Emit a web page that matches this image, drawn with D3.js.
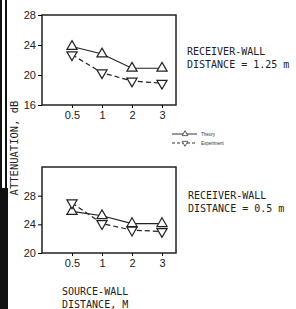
<!DOCTYPE html>
<html>
<head>
<meta charset="utf-8">
<script src="https://cdn.jsdelivr.net/npm/d3@7"></script>
<style>
  body { margin: 0; background: #fff; }
  svg { display: block; }
  .tick text { font-family: "Liberation Sans Narrow", "Liberation Sans", sans-serif; font-size: 11px; fill: #222; }
  .mono { font-family: "DejaVu Sans Mono", "Liberation Mono", monospace; font-size: 10px; fill: #222; }
</style>
</head>
<body>
<script>
// source-wall distance, m
var distances = ["0.5", "1", "2", "3"];

// receiver-wall distance = 1.25 m
var theoryFar = [23.8, 22.8, 20.9, 20.9];
var expFar = [22.7, 20.3, 19.2, 18.9];

// receiver-wall distance = 0.5 m
var theoryNear = [25.8, 25.2, 24.1, 24.1];
var expNear = [27.0, 24.1, 23.2, 23.0];

var ticksFar = [16, 20, 24, 28];
var ticksNear = [20, 24, 28];

var svg = d3.select('body').append('svg')
  .attr('width', 296).attr('height', 309);

// scan edge on the left
svg.append('rect').attr('x', 0).attr('y', 0).attr('width', 2).attr('height', 309).attr('fill', '#111');
svg.append('rect').attr('x', 5).attr('y', 0).attr('width', 2).attr('height', 190).attr('fill', '#111');
svg.append('rect').attr('x', 0).attr('y', 188).attr('width', 8).attr('height', 121).attr('fill', '#111');

var x = d3.scalePoint().domain(distances).range([72, 162]);

function panel(top, bottom, domain, ticks, theory, exp) {
  var y = d3.scaleLinear().domain(domain).range([bottom, top]);
  var g = svg.append('g');

  // box
  g.append('rect')
    .attr('x', 42).attr('y', top)
    .attr('width', 134).attr('height', bottom - top)
    .attr('fill', 'none').attr('stroke', '#222').attr('stroke-width', 1.5);

  var ya = g.append('g').attr('transform', 'translate(42,0)')
    .call(d3.axisLeft(y).tickValues(ticks).tickSize(4).tickPadding(2));
  ya.select('.domain').remove();

  var xa = g.append('g').attr('transform', 'translate(0,' + bottom + ')')
    .call(d3.axisBottom(x).tickSize(3).tickPadding(3));
  xa.select('.domain').remove();

  var line = d3.line()
    .x(function (d, i) { return x(distances[i]); })
    .y(function (d) { return y(d); });

  g.append('path').datum(theory).attr('d', line)
    .attr('fill', 'none').attr('stroke', '#222').attr('stroke-width', 1.2);
  g.append('path').datum(exp).attr('d', line)
    .attr('fill', 'none').attr('stroke', '#222').attr('stroke-width', 1.2)
    .attr('stroke-dasharray', '5,3');

  var up = d3.symbol().type(d3.symbolTriangle).size(45);
  g.selectAll('.th').data(theory).enter().append('path')
    .attr('d', up)
    .attr('transform', function (d, i) { return 'translate(' + x(distances[i]) + ',' + y(d) + ')'; })
    .attr('fill', 'white').attr('stroke', '#222').attr('stroke-width', 1.2);
  g.selectAll('.ex').data(exp).enter().append('path')
    .attr('d', up)
    .attr('transform', function (d, i) { return 'translate(' + x(distances[i]) + ',' + y(d) + ') rotate(180)'; })
    .attr('fill', 'white').attr('stroke', '#222').attr('stroke-width', 1.2);
}

panel(15, 105, [16, 28], ticksFar, theoryFar, expFar);
panel(167, 253, [20, 32], ticksNear, theoryNear, expNear);

// legend
var leg = svg.append('g');
[['Theory', 0, null], ['Experiment', 180, '3,2']].forEach(function (d, i) {
  var yy = 134 + i * 9;
  leg.append('line').attr('x1', 172).attr('x2', 197).attr('y1', yy).attr('y2', yy)
    .attr('stroke', '#333').attr('stroke-width', 1).attr('stroke-dasharray', d[2]);
  leg.append('path').attr('d', d3.symbol().type(d3.symbolTriangle).size(14))
    .attr('transform', 'translate(185,' + yy + ') rotate(' + d[1] + ')')
    .attr('fill', 'white').attr('stroke', '#333').attr('stroke-width', 0.8);
  leg.append('text').attr('x', 201).attr('y', yy + 1.5)
    .style('font-family', 'Liberation Sans, sans-serif').style('font-size', '4.5px')
    .attr('fill', '#333').text(d[0]);
});

// annotations
function note(xp, yp, lines) {
  lines.forEach(function (t, i) {
    svg.append('text').attr('class', 'mono').attr('x', xp).attr('y', yp + i * 12.5).text(t);
  });
}
note(187, 55, ['RECEIVER-WALL', 'DISTANCE = 1.25 m']);
note(188, 199, ['RECEIVER-WALL', 'DISTANCE = 0.5 m']);
note(62, 295, ['SOURCE-WALL', 'DISTANCE, M']);

svg.append('text')
  .attr('transform', 'translate(18,148) rotate(-90)')
  .attr('text-anchor', 'middle')
  .attr('class', 'mono')
  .style('font-size', '10.5px')
  .text('ATTENUATION, dB');
</script>
</body>
</html>
